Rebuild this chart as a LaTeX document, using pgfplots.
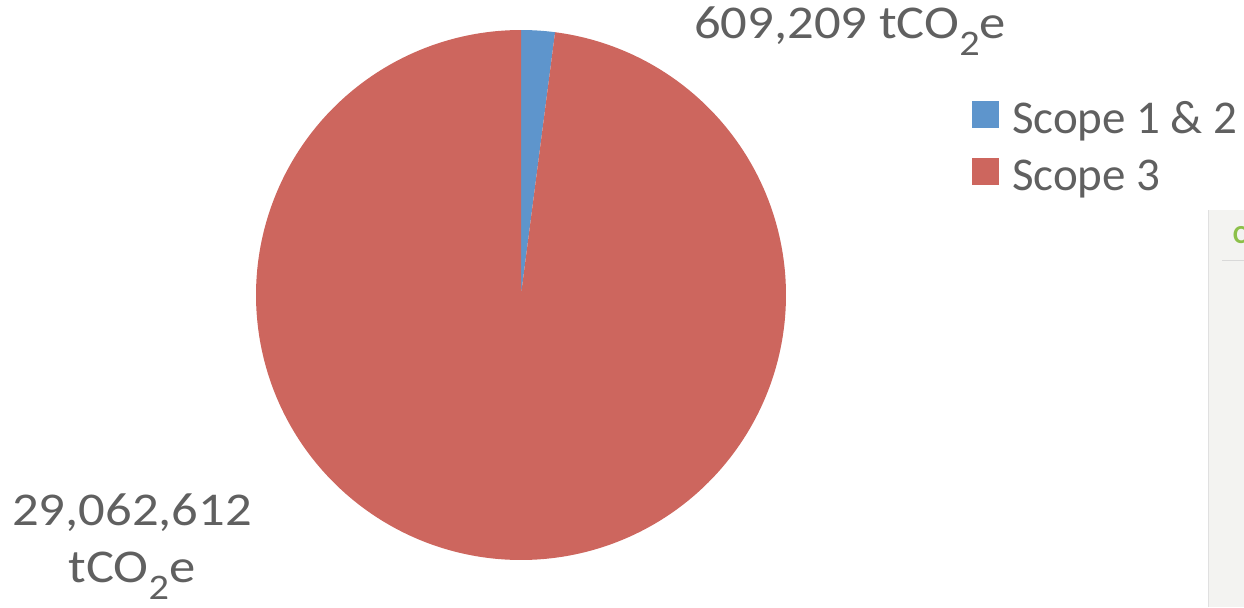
\documentclass[border=0pt]{standalone}
\usepackage{pgfplots}
\pgfplotsset{compat=1.18}
\usepackage{pgfplotstable}
\usepackage{fontspec}
\setmainfont{Carlito}
\newfontfamily\lblfont{Carlito}[FakeStretch=1.12]
\definecolor{sblue}{RGB}{94,149,204}
\definecolor{sred}{RGB}{205,102,94}
\definecolor{tgray}{RGB}{96,96,96}
\definecolor{panel}{RGB}{243,243,241}
\definecolor{cgreen}{RGB}{140,192,74}
\pgfplotstableread{
label value
{Scope 1 \& 2} 609209
{Scope 3} 29062612
}\datatable
\newcommand{\sub}[1]{\raisebox{-8.5pt}{\fontsize{18}{18}\selectfont #1}}
\begin{document}%
\pgfplotstablegetelem{0}{value}\of\datatable\let\va\pgfplotsretval%
\pgfplotstablegetelem{1}{value}\of\datatable\let\vb\pgfplotsretval%
\pgfkeys{/pgf/fpu=true,/pgf/fpu/output format=fixed}%
\pgfmathsetmacro\angA{360*\va/(\va+\vb)}%
\pgfkeys{/pgf/fpu=false}%
\pgfmathsetmacro\splitang{90-\angA}%
\begin{tikzpicture}
\begin{axis}[
  at={(0,0)}, anchor=south west,
  width=622pt, height=303.5pt, scale only axis,
  xmin=0, xmax=1244, ymin=0, ymax=607,
  hide axis, clip=false,
  legend style={at={(axis cs:972,506)}, anchor=north west, draw=none, fill=none,
    font=\fontsize{23.5}{28.5}\selectfont\color{tgray}, inner sep=0pt,
    row sep=7.5pt, column sep=0pt,
    nodes={inner sep=0pt, text height=16pt, text depth=5pt}},
  legend cell align=left,
  legend image code/.code={\fill[#1] (0pt,-3pt) rectangle (13.5pt,10.5pt);
     \path (0pt,0pt) (19.8pt,0pt);},
]
% background panel artifact on the right
\fill[panel] (axis cs:1208,0) rectangle (axis cs:1250,397);
\draw[black!12] (axis cs:1208.5,0) -- (axis cs:1208.5,397);
\draw[black!15] (axis cs:1222,347) -- (axis cs:1250,347);
\node[anchor=base west, text=cgreen, font=\fontsize{13}{15}\selectfont\bfseries] at (axis cs:1226,364) {C};
% pie
\addplot[forget plot, fill=sblue, draw=none, domain=\splitang:90, samples=40]
  ({521+265*cos(x)},{312+265*sin(x)}) -- (axis cs:521,312) -- cycle;
\addplot[forget plot, fill=sred, draw=none, domain=-270:\splitang, samples=360]
  ({521+265*cos(x)},{312+265*sin(x)}) -- (axis cs:521,312) -- cycle;
\addlegendimage{fill=sblue, draw=none}
\addlegendentry{Scope 1 \& 2}
\addlegendimage{fill=sred, draw=none}
\addlegendentry{Scope 3}
% labels
\node[anchor=base, text=tgray, font=\lblfont\fontsize{23.5}{28}\selectfont] at (axis cs:850,568) {609,209 tCO\sub{2}e};
\node[anchor=base, text=tgray, font=\lblfont\fontsize{23.5}{28}\selectfont] at (axis cs:132,82) {29,062,612};
\node[anchor=base, text=tgray, font=\lblfont\fontsize{23.5}{28}\selectfont] at (axis cs:132,25) {tCO\sub{2}e};
\end{axis}
\pgfresetboundingbox
\path[use as bounding box] (0,0) rectangle (622pt,303.5pt);
\end{tikzpicture}%
\end{document}
